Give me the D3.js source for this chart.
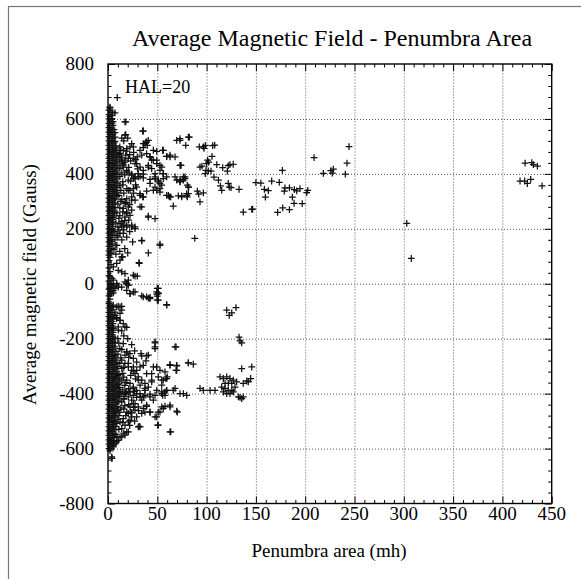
<!DOCTYPE html>
<html><head><meta charset="utf-8">
<script src="https://cdn.jsdelivr.net/npm/d3@7"></script>
<style>
body{margin:0;background:#fff}
svg{display:block}
</style>
</head><body>
<svg id="chart" width="581" height="579"></svg>
<script>
const titleText = "Average Magnetic Field - Penumbra Area";
const xLabelText = "Penumbra area (mh)";
const yLabelText = "Average magnetic field (Gauss)";
const annotationText = "HAL=20";
const xTicks = [0,50,100,150,200,250,300,350,400,450];
const yTicks = [-800,-600,-400,-200,0,200,400,600,800];
const xGrid = [50,100,150,200,250,300,350,400];
const yGrid = [-600,-400,-200,0,200,400,600];

// dense column of small-area groups (area, field)
const columnPoints = [
[2,640],[1,632],[3,624],[1,616],[4,614],[2,608],[1,600],[4,601],[2,592],[5,590],[1,584],[4,585],[2,576],[5,577],[1,568],[4,567],[2,560],[6,561],
[1,552],[4,553],[7,550],[2,544],[5,545],[1,536],[4,537],[7,534],[2,528],[5,529],[1,520],[4,521],[7,518],[2,512],[6,513],[1,504],[4,505],[8,502],
[2,496],[5,497],[8,494],[1,488],[4,489],[7,486],[2,480],[5,481],[9,478],[1,472],[4,473],[7,470],[2,464],[6,465],[9,462],[1,456],[4,457],[8,454],
[2,448],[5,449],[9,446],[1,440],[4,441],[7,438],[2,432],[6,433],[10,430],[1,424],[4,425],[8,422],[2,416],[5,417],[9,414],[1,408],[4,409],[7,406],
[2,400],[6,401],[10,398],[1,392],[4,393],[8,390],[2,384],[5,385],[9,382],[1,376],[4,377],[7,374],[2,368],[6,369],[10,366],[1,360],[4,361],[8,358],
[2,352],[5,353],[9,350],[1,344],[4,345],[7,342],[2,336],[6,337],[9,334],[1,328],[4,329],[8,326],[2,320],[5,321],[9,318],[1,312],[4,313],[7,310],
[2,304],[6,305],[1,296],[4,297],[7,294],[2,288],[5,289],[1,280],[4,281],[7,278],[2,272],[5,273],[1,264],[4,265],[7,262],[2,256],[5,257],
[1,248],[4,249],[6,246],[2,240],[5,241],[1,232],[4,233],[2,224],[5,225],[1,216],[4,217],[2,208],[5,209],[1,200],[4,201],[2,192],[4,193],
[1,184],[4,185],[2,176],[5,177],[1,168],[3,169],[2,160],[4,161],[1,152],[3,153],[2,144],[4,145],[1,136],[2,128],[4,129],[1,120],[2,112],[3,110],
[1,104],[2,96],[1,84],[3,70],[1,58],[2,44],[1,30],[4,20],[1,10],[2,-4],[1,-20],[3,-28],[1,-44],[2,-56],[1,-66],
[1,-72],[2,-80],[4,-82],[1,-88],[2,-96],[4,-95],[1,-104],[3,-105],[2,-112],[5,-113],[1,-120],[4,-121],[2,-128],[5,-129],[1,-136],[4,-137],
[2,-144],[5,-145],[1,-152],[4,-153],[2,-160],[5,-161],[1,-168],[4,-169],[2,-176],[5,-177],[1,-184],[4,-185],[2,-192],[5,-193],
[1,-200],[4,-201],[7,-198],[2,-208],[5,-209],[1,-216],[4,-217],[7,-214],[2,-224],[5,-225],[1,-232],[4,-233],[7,-230],[2,-240],[5,-241],
[1,-248],[4,-249],[8,-246],[2,-256],[5,-257],[1,-264],[4,-265],[7,-262],[2,-272],[5,-273],[8,-270],[1,-280],[4,-281],[7,-278],
[2,-288],[5,-289],[9,-286],[1,-296],[4,-297],[7,-294],[2,-304],[6,-305],[10,-302],[1,-312],[4,-313],[8,-310],[2,-320],[5,-321],[9,-318],
[1,-328],[4,-329],[7,-326],[11,-330],[2,-336],[6,-337],[10,-334],[1,-344],[4,-345],[8,-342],[12,-346],[2,-352],[5,-353],[9,-350],
[1,-360],[4,-361],[7,-358],[11,-362],[2,-368],[6,-369],[10,-366],[1,-376],[4,-377],[8,-374],[12,-378],[2,-384],[5,-385],[9,-382],
[1,-392],[4,-393],[7,-390],[11,-394],[2,-400],[6,-401],[10,-398],[14,-402],[1,-408],[4,-409],[8,-406],[12,-410],[2,-416],[5,-417],[9,-414],
[1,-424],[4,-425],[7,-422],[11,-426],[2,-432],[6,-433],[10,-430],[1,-440],[4,-441],[8,-438],[2,-448],[5,-449],[9,-446],[1,-456],[4,-457],[7,-454],
[2,-464],[6,-465],[9,-462],[1,-472],[4,-473],[7,-470],[2,-480],[5,-481],[8,-478],[1,-488],[4,-489],[7,-486],[2,-496],[5,-497],
[1,-504],[4,-505],[7,-502],[2,-512],[5,-513],[1,-520],[4,-521],[6,-518],[2,-528],[5,-529],[1,-536],[4,-537],[2,-544],[5,-545],
[1,-552],[4,-553],[2,-560],[4,-561],[1,-568],[3,-569],[2,-576],[4,-577],[1,-584],[2,-592],[3,-594],[1,-600],[2,-608],[4,-636]
];

// outer edge of the dense column (area, field)
const columnEdgePoints = [
[12,498],[13,486],[11,470],[14,458],[12,444],[15,436],[12,420],[14,404],[12,390],[15,372],[12,356],[13,340],[11,322],[14,306],[10,290],
[12,276],[9,258],[11,238],[8,222],[10,206],[7,190],[9,176],[7,160],[8,140],[6,124],
[10,-200],[11,-216],[12,-236],[10,-256],[13,-270],[12,-290],[14,-308],[15,-326],[16,-340],[14,-354],[17,-370],[15,-386],[18,-398],
[16,-418],[14,-430],[17,-444],[13,-452],[12,-468],[11,-480],[10,-494],[9,-508],[8,-520],[7,-532],[8,-548],[6,-560],[6,-572],[5,-582]
];

// scattered groups (area, field)
const scatterPoints = [
[9.4,678],[7.1,622],[4.8,625],[2,643],[18,589],[18,543],[35.8,556],[24,510],[22.3,498],[25.7,498],[15.5,486],[19,483],
[35.8,510],[38.5,516],[39.9,504],[35.8,496],[32.5,486],[29.7,462],[34.2,468],[46,486],[49.4,482],[55.5,486],
[20.6,456],[23,447],[27.4,437],[12.2,474],[13.9,450],[17.2,443],[42.6,462],[44.3,450],[40.9,431],[49.4,450],
[59.5,464],[62.9,468],[68,462],[52.7,431],[54.5,425],[73.7,431],[19,413],[21.6,403],[24,399],[27.4,389],
[30.7,401],[32.5,391],[35.8,399],[47.7,383],[51,377],[52.7,365],[56,401],[68,389],[69.7,377],[73,379],[76.4,389],
[59.5,322],[62.2,316],[66.2,283],[71.3,320],[74.7,320],[79.8,328],[81.5,352],[42.6,365],[47.7,352],[49.4,340],[52.7,334],
[29.1,352],[32.5,328],[35.8,316],[20.6,340],[24,316],[27.4,304],[17.2,292],[20.6,280],[24,268],[19,256],[22.3,249],
[34.2,280],[40.9,246],[47.7,237],[12.2,219],[15.5,213],[19,207],[24,207],[27.4,207],[12.2,183],[19,170],[25,152],[34.2,156],
[52.7,144],[40.9,112],[88,165],[31.4,77],[13.9,98],[12.2,86],[8.8,74],[5.4,61],[10.4,49],[27.4,28],[29.7,28],[20.6,13],[19,1],
[5.4,13],[8.8,1],[2,-17],[5.4,-24],[22.3,-36],[25.7,-30],[34.2,-44],[39.2,-48],[42.6,-50],[50,-17],[51,-33],[50,-45],
[20.6,377],[25.7,383],[30.7,389],[35.8,385],[42.6,380],[47.7,389],[56.1,383],[51,371],[54.5,359],[73,371],[78.1,383],[80.4,359],
[81.5,328],[61.2,322],[63.6,316],[52.7,346],[46,340],[39.2,337],[32.5,322],[35.2,316],[25.7,346],[22.3,340],[19,310],[24,304],
[32.5,280],[40.9,243],[15.5,274],[19,261],[17.2,243],[13.9,207],[19,213],[24,213],[27.4,201],[15.5,183],[34.2,158],[52.7,140],
[14.9,98],[31.7,74],[13.9,43],[17.2,37],[25.7,31],[2,25],[3.8,-5],[20.6,-5],[17.2,7],[51,-17],
[17.2,589],[17.2,541],[35.2,556],[37.5,510],[40.9,522],[39.2,516],[69.7,522],[73,528],[81.5,534],[56.1,486],[59.5,464],[62.9,462],
[73,431],[12.2,486],[19,492],[12.2,462],[17.2,450],[25.7,456],[29.1,437],[32.5,425],[35.8,413],[39.2,474],[42.6,462],[46,450],[49.4,437],
[40.9,425],[44.3,419],[47.7,401],[52.7,413],[56.1,401],[59.5,389],[15.5,425],[19,407],[24,395],[27.4,383],
[16,520],[20,530],[14,530],[22,470],[26,478],[18,468],[28,452],[16,432],[21,424],[30,418],[17,396],[23,374],[15,360],[19,346],[28,360],
[16,330],[26,330],[13,300],[18,296],[22,288],[15,262],[12,248],[17,230],[14,226],[21,232],[11,196],[16,196],[22,190],[10,170],[14,160],
[9,140],[17,128],[12,118],[20,112],[8,108],
[82.5,534],[78.8,504],[73,522],[92.6,498],[96.7,498],[98.7,504],[97.4,493],[106.2,503],[108.2,505],[105.5,464],[101,450],[100,437],[102,443],
[74,431],[93.3,425],[95.3,428],[99.4,413],[101.7,411],[104.5,410],[110.3,434],[116.3,423],[122,430],[123.7,434],[127,435],[121,410],[98.7,401],
[78,389],[76.4,377],[73,373],[81.8,352],[74.7,316],[79.8,322],[80.4,316],[90.6,337],[92,326],[96.7,331],[93.3,298],[107.5,388],[112,377],
[114,356],[115.3,340],[122,365],[123,352],[124.8,350],[132.9,344],[137.2,261],[145.8,271],
[146.7,272],[150,368],[155,366],[158.6,344],[162.6,339],[159.6,315],[166,374],[173.7,369],[176.8,413],[179.5,349],[178.8,337],[184,349],
[189,343],[191.4,338],[194.7,346],[187,315],[188.7,293],[197,292],[201.5,332],[202.6,340],[172,260],[177.2,276],[184,270],[209,459],
[218.4,402],[226,412],[228.5,417],[227.5,403],[240.7,399],[242.4,439],[244.4,499],[303,220],[307.6,92],
[423,439],[429.8,441],[431.4,434],[435.5,428],[417.9,374],[422.6,374],[425.3,365],[428.7,380],[440.2,356],
[2,1],[8.8,-5],[5.4,-12],[13.9,-12],[19,1],[20.6,-5],[2,-36],[5.4,-33],[49.4,-30],[49.4,-38],[50,-60],[59.5,-76],
[5.4,-84],[10.4,-82],[13.9,-82],[7.1,-103],[12.2,-108],[8.8,-123],[12.2,-133],[15.5,-145],[10.4,-157],[19,-159],[13.9,-172],
[120.4,-96],[125.5,-106],[123,-115],[129.8,-87],[132.9,-194],[133.9,-208],[135.6,-215],[135.6,-309],[145.8,-303],[144.7,-345],[140.7,-354],
[47.7,-215],[47.7,-236],[69,-230],[33.5,-254],[40.9,-260],[38.5,-281],[49.4,-303],[52.7,-315],[57.8,-321],[62.9,-294],[69.7,-299],[69.7,-315],
[81.5,-288],[86.5,-293],[44.3,-351],[54.5,-351],[60.1,-339],[58.8,-345],[49.4,-388],[54.5,-394],[59.5,-388],[55.5,-406],[57.8,-406],[68,-381],
[76.4,-400],[79.8,-406],[93.3,-381],[96.7,-388],[103.5,-388],[108.5,-388],
[113.6,-339],[117,-345],[120.4,-339],[123.7,-345],[127.1,-351],[130.5,-357],[115.3,-376],[118.7,-381],[122,-388],[125.5,-388],[128.8,-376],
[117,-394],[120.4,-400],[123.7,-400],[127.1,-394],[118.7,-363],[122,-363],[125.5,-363],[132.2,-412],[133.9,-414],[135.6,-418],[137.2,-412],
[137.2,-363],[142.3,-357],[39.2,-446],[35.8,-454],[42.6,-467],[49.4,-485],[51,-467],[54.5,-448],[57.8,-446],[62.9,-448],[69.7,-464],
[50.4,-515],[63.6,-539],[31.7,-519],[30.7,-521],[22.3,-497],[20.6,-472],[23,-467],[27.4,-460],[20.6,-539],[17.2,-551],[13.9,-557],
[10.4,-570],[7.1,-582],[5.4,-594],[2,-600],[3.8,-630],
[2,-12],[7.1,-17],[10.4,-12],[19,-24],[22.3,-36],[27.4,-30],[35.8,-48],[40.9,-52],[42.6,-54],[51,-36],[51,-60],[59.5,-78],[3.8,-36],
[5.4,-78],[8.8,-84],[12.2,-84],[13.9,-96],[7.1,-115],[8.8,-127],[12.2,-133],[17.2,-157],[10.4,-169],[5.4,-163],[15.5,-218],[19,-248],
[17.2,-260],[13.9,-278],[20.6,-290],[25.7,-303],[29.1,-315],[32.5,-303],[35.8,-297],[39.2,-327],[44.3,-327],[46,-303],[47.7,-230],[47.7,-212],
[51,-339],[56.1,-351],[62.9,-297],[69.7,-297],[69,-315],[81.5,-288],[59.5,-345],[54.5,-369],[44.3,-357],[32.5,-369],[37.5,-381],[25.7,-381],
[22.3,-394],[19,-394],[59.5,-388],[66.2,-388],[73,-400],[30.7,-351],[34.2,-263],[39.2,-263],[68,-230],
[12.2,-394],[17.2,-400],[22.3,-394],[25.7,-406],[29.1,-400],[32.5,-412],[37.5,-406],[42.6,-402],[47.7,-406],[54.5,-400],[57.8,-394],
[62.9,-442],[56.1,-454],[52.7,-467],[47.7,-485],[51,-515],[32.5,-521],[62.9,-539],[70.3,-467],[39.2,-442],[34.2,-472],[37.5,-467],[42.6,-467],
[25.7,-436],[22.3,-448],[19,-467],[24,-485],[20.6,-503],[17.2,-515],[13.9,-527],[19,-539],[12.2,-558],[8.8,-576],[5.4,-588],[3.8,-636],
[15.5,-491],[12.2,-503],[29.1,-485],[10.4,-460],
[19,-248],[22.3,-254],[25.7,-272],[29.1,-285],[17.2,-290],[20.6,-303],[24,-315],[27.4,-327],[30.7,-339],[34.2,-351],[37.5,-363],
[19,-351],[22.3,-363],[25.7,-376],[29.1,-388],[32.5,-400],[35.8,-412],[17.2,-400],[20.6,-412],[24,-424],[27.4,-436],[30.7,-448],
[34.2,-424],[37.5,-388],[40.9,-376],[42.6,-412],[46,-424],
[20,-200],[16,-190],[24,-222],[14,-240],[27,-244],[21,-268],[16,-304],[26,-318],[23,-334],[28,-346],[18,-360],[21,-382],[27,-392],
[16,-420],[29,-414],[21,-440],[26,-450],[16,-456],[31,-462],[24,-470],[18,-480],[27,-500],[15,-506],[22,-516],[11,-530],[16,-544],[9,-556]
];

const FONT = "'Liberation Serif', 'Times New Roman', Times, serif";
const svg = d3.select("#chart");
const L = 108, R = 551.7, T = 64, B = 503.5;
const x = d3.scaleLinear().domain([0,450]).range([L,R]);
const y = d3.scaleLinear().domain([-800,800]).range([B,T]);

// outer frame
svg.append("rect").attr("x",8.5).attr("y",6.5).attr("width",620).attr("height",620)
  .attr("fill","none").attr("stroke","#777").attr("stroke-width",1.2);

// grid
const gridG = svg.append("g");
gridG.append("g").attr("transform",`translate(0,${B})`)
  .call(d3.axisBottom(x).tickValues(xGrid).tickSize(-(B-T)).tickFormat(""))
  .call(g=>g.select(".domain").remove());
gridG.append("g").attr("transform",`translate(${L},0)`)
  .call(d3.axisLeft(y).tickValues(yGrid).tickSize(-(R-L)).tickFormat(""))
  .call(g=>g.select(".domain").remove());
gridG.selectAll("line").attr("stroke","#555").attr("stroke-width",1).attr("stroke-dasharray","1,2");

// ticks (inward, mirrored)
const xMinor = d3.range(0,451,10).filter(v=>v%50!==0);
const yMinor = d3.range(-800,801,40).filter(v=>v%200!==0);
const tickG = svg.append("g");
function ticks(axis, tr, vals, size){
  tickG.append("g").attr("transform",tr)
    .call(axis.tickValues(vals).tickSize(-size).tickFormat(""))
    .call(g=>g.select(".domain").remove());
}
ticks(d3.axisBottom(x), `translate(0,${B})`, xMinor, 3.5);
ticks(d3.axisTop(x), `translate(0,${T})`, xMinor, 3.5);
ticks(d3.axisLeft(y), `translate(${L},0)`, yMinor, 3.5);
ticks(d3.axisRight(y), `translate(${R},0)`, yMinor, 3.5);
ticks(d3.axisBottom(x), `translate(0,${B})`, xTicks, 7);
ticks(d3.axisTop(x), `translate(0,${T})`, xTicks, 7);
ticks(d3.axisLeft(y), `translate(${L},0)`, yTicks, 7);
ticks(d3.axisRight(y), `translate(${R},0)`, yTicks, 7);
tickG.selectAll("line").attr("stroke","#000").attr("stroke-width",1);

// tick labels
svg.append("g").selectAll("text").data(xTicks).join("text")
  .attr("font-family",FONT).attr("font-size",19)
  .attr("x",d=>x(d)).attr("y",520).attr("text-anchor","middle").text(d=>d);
svg.append("g").selectAll("text").data(yTicks).join("text")
  .attr("font-family",FONT).attr("font-size",19)
  .attr("x",94).attr("y",d=>y(d)).attr("dy","0.34em").attr("text-anchor","end").text(d=>d);

// points
const marker = "M-3.4,0H3.4M0,-3.4V3.4";
svg.append("g").attr("stroke","#111").attr("stroke-width",1.25).attr("fill","none")
  .selectAll("path").data(columnPoints.concat(columnEdgePoints, scatterPoints)).join("path")
  .attr("d",marker).attr("transform",d=>`translate(${x(d[0])},${y(d[1])})`);

// plot border
svg.append("rect").attr("x",L).attr("y",T).attr("width",R-L).attr("height",B-T)
  .attr("fill","none").attr("stroke","#000").attr("stroke-width",1.4);

// texts
svg.append("text").attr("font-family",FONT).attr("font-size",24)
  .attr("x",332).attr("y",46).attr("text-anchor","middle").text(titleText);
svg.append("text").attr("font-family",FONT).attr("font-size",19)
  .attr("x",329).attr("y",557).attr("text-anchor","middle").text(xLabelText);
svg.append("text").attr("font-family",FONT).attr("font-size",19)
  .attr("transform","translate(36,284.5) rotate(-90)").attr("text-anchor","middle").text(yLabelText);
svg.append("text").attr("font-family",FONT).attr("font-size",18)
  .attr("x",125).attr("y",92.5).text(annotationText);
</script>
</body></html>
